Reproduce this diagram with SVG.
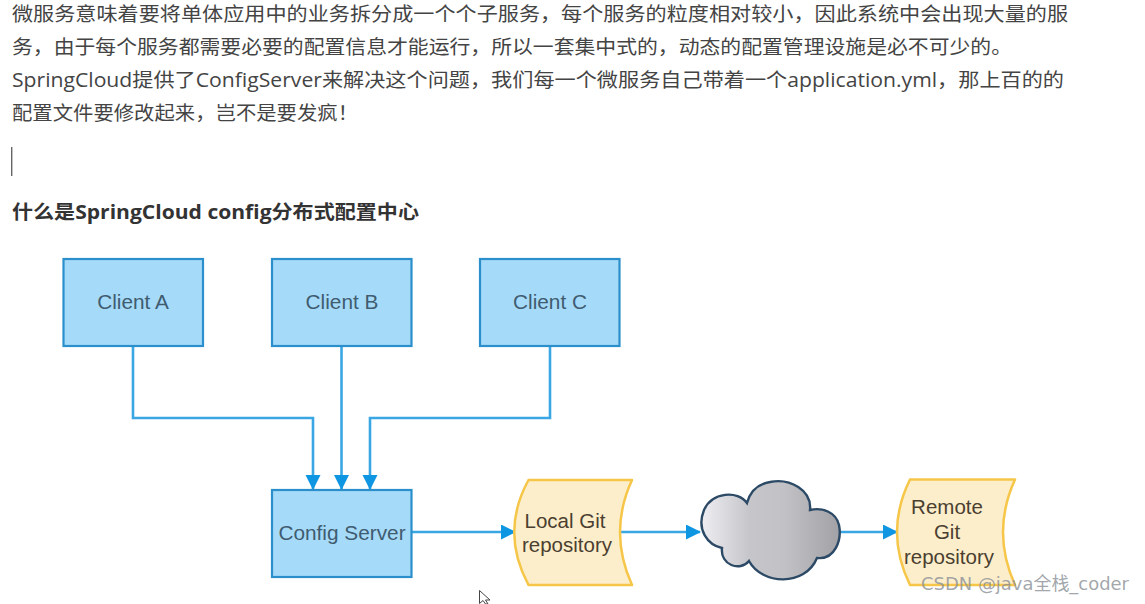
<svg xmlns="http://www.w3.org/2000/svg" width="1145" height="604" viewBox="0 0 1145 604">
<style>
.p{font-family:"Open Sans","Noto Sans CJK SC",sans-serif;font-size:19.2px;fill:#444}
.h{font-family:"Open Sans","Noto Sans CJK SC",sans-serif;font-size:19.2px;font-weight:700;fill:#333}
.box{fill:#a6daf9;stroke:#2a8fca;stroke-width:2.200}
.doc{fill:#fdeecb;stroke:#f6c649;stroke-width:2.500;stroke-linejoin:round}
.lb{font-family:"Liberation Sans",Arial,sans-serif;font-size:20.800px;text-anchor:middle;fill:#3f5c70}
.ld{font-family:"Liberation Sans",Arial,sans-serif;font-size:20.500px;text-anchor:middle;fill:#4a3f30}
.c{fill:none;stroke:#3aa6e4;stroke-width:2.600}
.wm{font-family:"DejaVu Sans","Noto Sans CJK SC",sans-serif;font-size:18.500px;fill:#8a8f96;fill-opacity:.8}
</style>
<defs>
<marker id="ah" markerUnits="userSpaceOnUse" markerWidth="16" markerHeight="16" refX="14" refY="7.500" orient="auto">
<path d="M0 0L15 7.500L0 15Z" fill="#0f96e2"/>
</marker>
<linearGradient id="cg" x1="0" y1="0" x2="1" y2="0">
<stop offset="0" stop-color="#eeeef2"/>
<stop offset=".35" stop-color="#c6c6ca"/>
<stop offset=".6" stop-color="#c2c2c6"/>
<stop offset="1" stop-color="#a2a2a6"/>
</linearGradient>
</defs>
<rect width="1145" height="604" fill="#fff"/>
<g id="article">
<text class="p" x="12" y="21" textLength="1056" lengthAdjust="spacingAndGlyphs">微服务意味着要将单体应用中的业务拆分成一个个子服务，每个服务的粒度相对较小，因此系统中会出现大量的服</text>
<text class="p" x="12" y="54" textLength="1000" lengthAdjust="spacingAndGlyphs">务，由于每个服务都需要必要的配置信息才能运行，所以一套集中式的，动态的配置管理设施是必不可少的。</text>
<text class="p" x="12" y="87" textLength="1052" lengthAdjust="spacingAndGlyphs">SpringCloud提供了ConfigServer来解决这个问题，我们每一个微服务自己带着一个application.yml，那上百的的</text>
<text class="p" x="12" y="120" textLength="346" lengthAdjust="spacingAndGlyphs">配置文件要修改起来，岂不是要发疯！</text>
<rect x="11" y="147" width="1.400" height="29" fill="#666"/>
<text class="h" x="12" y="219" textLength="407" lengthAdjust="spacingAndGlyphs">什么是SpringCloud config分布式配置中心</text>
</g>
<g id="connectors">
<path class="c" marker-end="url(#ah)" d="M133 346V418H313V489"/>
<path class="c" marker-end="url(#ah)" d="M341.500 346V489"/>
<path class="c" marker-end="url(#ah)" d="M550 346V418H370V489"/>
<path class="c" marker-end="url(#ah)" d="M412 532H515"/>
<path class="c" marker-end="url(#ah)" d="M620 532H700"/>
<path class="c" marker-end="url(#ah)" d="M840 532H897"/>
</g>
<g id="client-a"><rect class="box" x="63.500" y="259" width="139.500" height="87"/><text class="lb" x="133" y="308.500">Client A</text></g>
<g id="client-b"><rect class="box" x="272" y="259" width="139.500" height="87"/><text class="lb" x="342" y="308.500">Client B</text></g>
<g id="client-c"><rect class="box" x="480" y="259" width="139.500" height="87"/><text class="lb" x="550" y="308.500">Client C</text></g>
<g id="config-server"><rect class="box" x="272" y="490" width="139.500" height="87"/><text class="lb" x="342" y="540">Config Server</text></g>
<g id="local-git">
<path class="doc" d="M528.500 480H632Q608 532 632 585H528.500Q500 532 528.500 480Z"/>
<text class="ld" x="565" y="528">Local Git</text>
<text class="ld" x="567" y="552">repository</text>
</g>
<g id="cloud">
<path d="M747 503C738 490 712 492 704 510C696 530 708 545 722 548C720 565 740 572 749 561C762 585 805 587 817 558C835 560 842 540 839 525C836 512 822 507 810 510C812 490 790 478 770 482C758 484 750 492 747 503Z" fill="url(#cg)" stroke="#2c4a66" stroke-width="2.400"/>
</g>
<g id="remote-git">
<path class="doc" d="M910 479.500H1015Q991 532 1015 585H910Q884 532 910 479.500Z"/>
<text class="ld" x="947" y="514">Remote</text>
<text class="ld" x="947" y="539">Git</text>
<text class="ld" x="949" y="564">repository</text>
</g>
<g id="cursor">
<path d="M479.500 590.500V603.500L483 600.500L485.500 604H488L485.500 600H490Z" fill="#fff" stroke="#444" stroke-width="1"/>
</g>
<text class="wm" x="921" y="590" textLength="208" lengthAdjust="spacingAndGlyphs">CSDN @java全栈_coder</text>
</svg>
